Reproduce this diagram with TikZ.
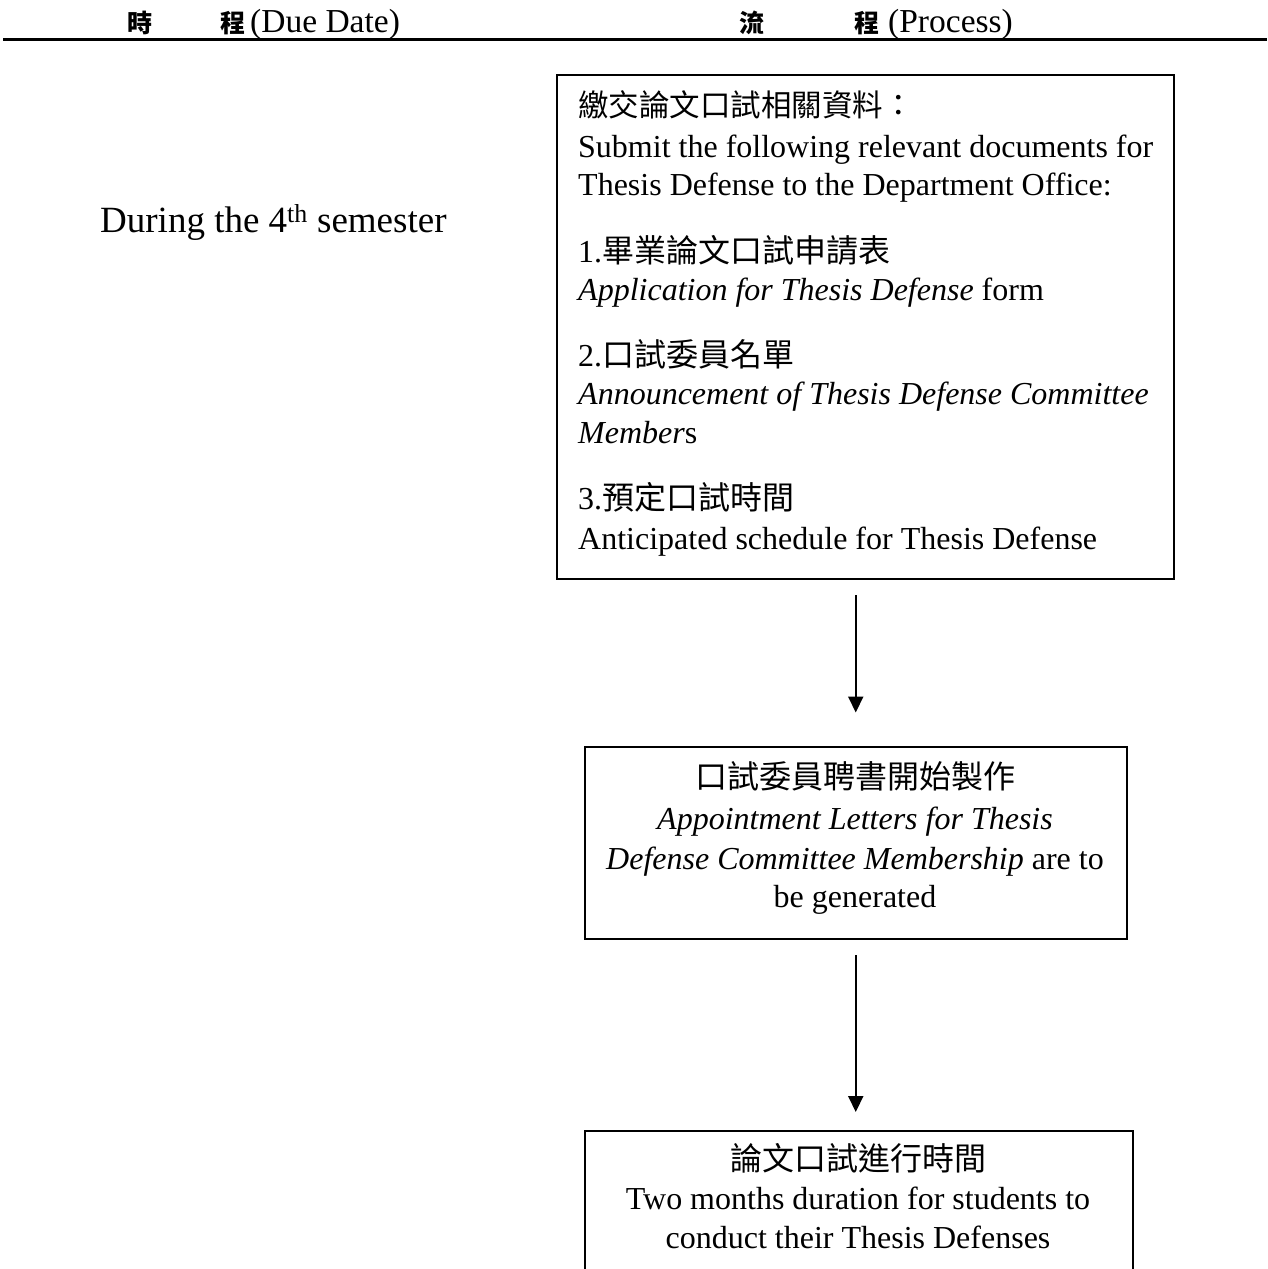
\documentclass[tikz,border=0pt]{standalone}
\usepackage{fontspec}
\setmainfont{Liberation Serif}
\newfontfamily\cjk{Noto Sans CJK TC}
\usetikzlibrary{arrows.meta}
\tikzset{
  box/.style={draw, line width=2pt, inner sep=0pt, anchor=north west},
  txt/.style={inner sep=0pt, font=\fontsize{32}{38}\selectfont},
  lefttxt/.style={inner sep=0pt, font=\fontsize{37}{44}\selectfont},
  head/.style={inner sep=0pt, font=\fontsize{33.5}{40}\selectfont},
  headcjk/.style={inner sep=0pt, font=\fontsize{25}{30}\selectfont\cjk\bfseries},
  arr/.style={line width=2pt, -{Triangle[length=16pt,width=15pt]}}
}
\begin{document}
\begin{tikzpicture}[x=1pt,y=-1pt]
\clip (0,0) rectangle (1267,1269);
\fill[white] (0,0) rectangle (1267,1269);
% header
\node[headcjk, anchor=base] (h1) at (140,32) {時};
\node[headcjk, anchor=base] (h2) at (233,32) {程};
\node[head, anchor=base west] (h3) at (250,32) {(Due Date)};
\node[headcjk, anchor=base] (h4) at (752,32) {流};
\node[headcjk, anchor=base] (h5) at (867,32) {程};
\node[head, anchor=base west] (h6) at (888,32) {(Process)};
\coordinate (rl) at (3,39.5);
\coordinate (rr) at (1267,39.5);
\draw[line width=3pt] (rl) -- (rr);
% left
\node[lefttxt, anchor=base west] (due) at (100,232) {During the 4\textsuperscript{th} semester};
% boxes
\node[box, minimum width=617pt, minimum height=504pt] (b1) at (555.5,74) {};
\node[box, minimum width=541.5pt, minimum height=192.5pt] (b2) at (584,745.5) {};
\node[box, minimum width=548pt, minimum height=220pt] (b3) at (584,1130) {};
% box1 text
\node[txt, anchor=base west] (t1) at (578,116) {{\fontsize{30.5}{36}\selectfont\cjk 繳交論文口試相關資料：}};
\node[txt, anchor=base west] (t2) at (578,157) {Submit the following relevant documents for};
\node[txt, anchor=base west] (t3) at (578,195) {Thesis Defense to the Department Office:};
\node[txt, anchor=base west] (t4) at (578,262) {1.{\cjk 畢業論文口試申請表}};
\node[txt, anchor=base west] (t5) at (578,300) {\textit{Application for Thesis Defense} form};
\node[txt, anchor=base west] (t6) at (578,366) {2.{\cjk 口試委員名單}};
\node[txt, anchor=base west] (t7) at (578,404) {\textit{Announcement of Thesis Defense Committee}};
\node[txt, anchor=base west] (t8) at (578,443) {\textit{Member}s};
\node[txt, anchor=base west] (t9) at (578,509) {3.{\cjk 預定口試時間}};
\node[txt, anchor=base west] (t10) at (578,549) {Anticipated schedule for Thesis Defense};
% box2 text
\node[txt, anchor=base] (u1) at (855,788) {{\cjk 口試委員聘書開始製作}};
\node[txt, anchor=base] (u2) at (855,829) {\textit{Appointment Letters for Thesis}};
\node[txt, anchor=base] (u3) at (855,869) {\textit{Defense Committee Membership} are to};
\node[txt, anchor=base] (u4) at (855,907) {be generated};
% box3 text
\node[txt, anchor=base] (v1) at (858,1170) {{\cjk 論文口試進行時間}};
\node[txt, anchor=base] (v2) at (858,1209) {Two months duration for students to};
\node[txt, anchor=base] (v3) at (858,1248) {conduct their Thesis Defenses};
% arrows
\draw[arr, shorten <=15pt, shorten >=33pt] (b1.south -| b2.north) -- (b2.north);
\draw[arr, shorten <=15pt, shorten >=18pt] (b2.south) -- (b2.south |- b3.north);
\end{tikzpicture}
\end{document}
